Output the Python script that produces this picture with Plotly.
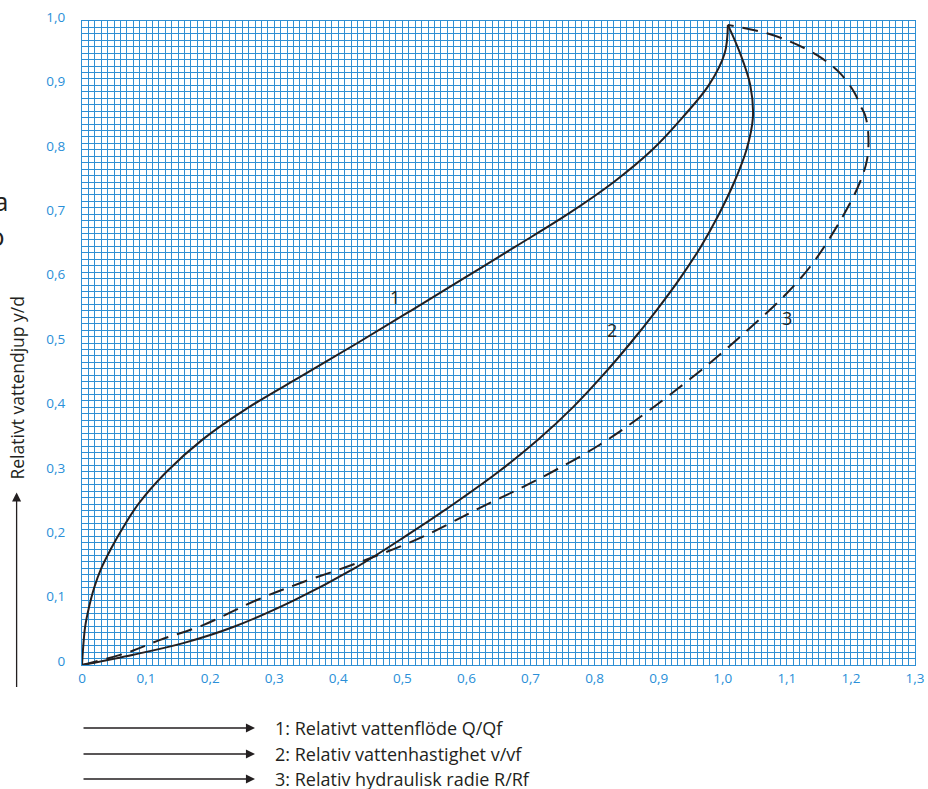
import plotly.graph_objects as go

# ---- data ----
q_x = [0, 0.002, 0.005, 0.011, 0.019, 0.030, 0.045, 0.065, 0.088, 0.132, 0.188, 0.260, 0.345,
       0.430, 0.513, 0.595, 0.677, 0.758, 0.830, 0.890, 0.937, 0.978, 1.003, 1.008]
q_y = [0, 0.030, 0.060, 0.090, 0.120, 0.150, 0.180, 0.215, 0.250, 0.300, 0.350, 0.400, 0.450,
       0.500, 0.550, 0.600, 0.650, 0.700, 0.750, 0.800, 0.850, 0.900, 0.950, 0.994]

v_x = [0, 0.080, 0.158, 0.236, 0.330, 0.425, 0.505, 0.580, 0.650, 0.712, 0.766, 0.813,
       0.856, 0.896, 0.933, 0.966, 0.994, 1.018, 1.037, 1.047, 1.043, 1.027, 1.008]
v_y = [0, 0.016, 0.034, 0.059, 0.100, 0.150, 0.200, 0.250, 0.300, 0.350, 0.400, 0.450,
       0.500, 0.550, 0.600, 0.650, 0.700, 0.750, 0.800, 0.850, 0.900, 0.950, 0.994]

r_x = [0, 0.070, 0.122, 0.189, 0.273, 0.340, 0.434, 0.527, 0.621, 0.715, 0.808, 0.886,
       0.980, 1.042, 1.094, 1.136, 1.172, 1.209, 1.225, 1.227, 1.222, 1.214, 1.206,
       1.183, 1.152, 1.110, 1.069, 1.033, 1.008]
r_y = [0, 0.019, 0.039, 0.062, 0.101, 0.127, 0.160, 0.197, 0.244, 0.290, 0.342, 0.396,
       0.469, 0.523, 0.571, 0.618, 0.671, 0.738, 0.784, 0.826, 0.854, 0.870, 0.888,
       0.919, 0.944, 0.966, 0.981, 0.989, 0.994]

x_ticks = [0, 0.1, 0.2, 0.3, 0.4, 0.5, 0.6, 0.7, 0.8, 0.9, 1.0, 1.1, 1.2, 1.3]
x_labels = ["0", "0,1", "0,2", "0,3", "0,4", "0,5", "0,6", "0,7", "0,8", "0,9", "1,0", "1,1", "1,2", "1,3"]
y_ticks = [0, 0.1, 0.2, 0.3, 0.4, 0.5, 0.6, 0.7, 0.8, 0.9, 1.0]
y_labels = ["0", "0,1", "0,2", "0,3", "0,4", "0,5", "0,6", "0,7", "0,8", "0,9", "1,0"]

curve_labels = ["1", "2", "3"]
curve_label_x = [0.488, 0.827, 1.100]
curve_label_y = [0.571, 0.520, 0.539]

legend_texts = ["1: Relativt vattenflöde Q/Qf",
                "2: Relativ vattenhastighet v/vf",
                "3: Relativ hydraulisk radie R/Rf"]
y_title = "Relativt vattendjup y/d"

# ---- styles ----
INK = "#231f20"
GRID = "#2f8fd3"
TICK = "#2a8fd8"
FONT = "Open Sans"

fig = go.Figure()
fig.add_trace(go.Scatter(x=q_x, y=q_y, mode="lines", line=dict(color=INK, width=2, shape="spline", smoothing=1.0), showlegend=False))
fig.add_trace(go.Scatter(x=v_x, y=v_y, mode="lines", line=dict(color=INK, width=2, shape="spline", smoothing=1.0), showlegend=False))
fig.add_trace(go.Scatter(x=r_x, y=r_y, mode="lines", line=dict(color=INK, width=2, dash="16px,9px", shape="spline", smoothing=1.0), showlegend=False))

axis_common = dict(
    showgrid=True, gridcolor=GRID, gridwidth=1,
    zeroline=False, showline=True, linecolor=GRID, linewidth=1, mirror=True,
    ticks="", tickfont=dict(family=FONT, size=13.5, color=TICK),
    minor=dict(dtick=0.01, tick0=0, showgrid=True, gridcolor=GRID, gridwidth=1, ticks=""),
    fixedrange=True, automargin=False,
)

fig.update_xaxes(range=[0, 1.3], tickmode="array", tickvals=x_ticks, ticktext=x_labels,
                 ticklabelstandoff=1, **axis_common)
fig.update_yaxes(range=[0, 1.0], tickmode="array", tickvals=y_ticks, ticktext=y_labels,
                 ticklabelstandoff=13, ticklabelshift=-4, **axis_common)

ann = []
for t, x, y in zip(curve_labels, curve_label_x, curve_label_y):
    ann.append(dict(x=x, y=y, xref="x", yref="y", text=t, showarrow=False,
                    font=dict(family=FONT, size=18, color=INK)))

# y-axis title and its arrow
ann.append(dict(x=-0.0775, y=0.430, xref="paper", yref="paper", text=y_title, textangle=-90,
                xanchor="center", yanchor="middle",
                showarrow=False, font=dict(family=FONT, size=17.5, color=INK)))
ann.append(dict(x=-0.0785, y=0.268, xref="paper", yref="paper", text="", showarrow=True,
                ax=0, ay=196, arrowhead=2, arrowsize=1.4, arrowwidth=1.3, arrowcolor=INK))

# legend arrows and texts
leg_y = [-0.0978, -0.1382, -0.177]
for t, y in zip(legend_texts, leg_y):
    ann.append(dict(x=0.2077, y=y, xref="paper", yref="paper", text="", showarrow=True,
                    ax=-173, ay=0, arrowhead=2, arrowsize=1.4, arrowwidth=1.3, arrowcolor=INK))
    ann.append(dict(x=0.2293, y=y, xref="paper", yref="paper", text=t, showarrow=False,
                    xanchor="left", yanchor="middle", font=dict(family=FONT, size=18, color=INK)))

# cut-off text fragments at the left edge
ann.append(dict(x=-0.0864, y=0.7205, xref="paper", yref="paper", text="a", showarrow=False,
                xanchor="right", yanchor="middle", font=dict(family=FONT, size=26, color=INK)))
ann.append(dict(x=-0.0900, y=0.666, xref="paper", yref="paper", text="o", showarrow=False,
                xanchor="right", yanchor="middle", font=dict(family=FONT, size=26, color=INK)))

fig.update_layout(
    width=928, height=789, autosize=False,
    margin=dict(l=82, r=13, t=21, b=124, autoexpand=False),
    paper_bgcolor="white", plot_bgcolor="white",
    annotations=ann,
    font=dict(family=FONT),
)

fig.write_html("out.html", config=dict(displayModeBar=False, responsive=False),
               post_script="document.body.style.margin='0px';document.body.style.overflow='hidden';")
